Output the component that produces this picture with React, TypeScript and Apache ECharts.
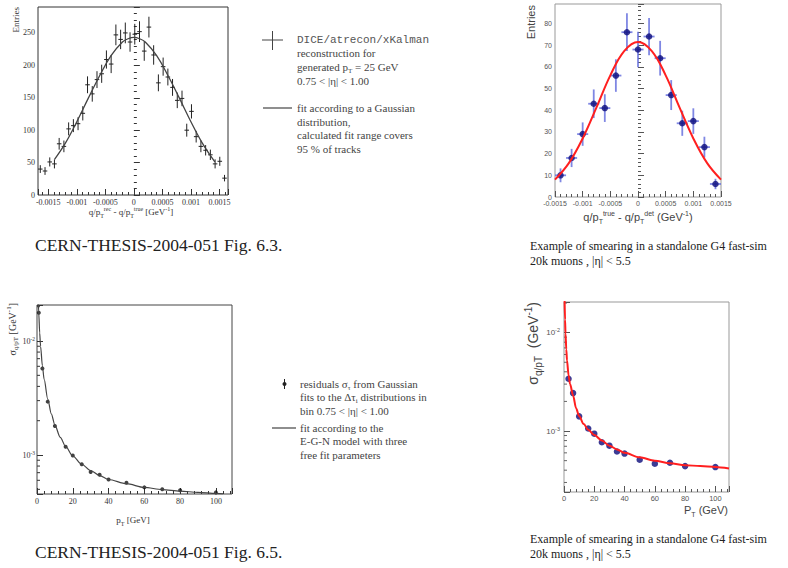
import React, { useEffect, useRef } from 'react';
import * as echarts from 'echarts';

const SERIF = '"Liberation Serif", "Times New Roman", serif';
const SANS = '"Liberation Sans", Arial, Helvetica, sans-serif';
const MONO = '"Liberation Mono", "DejaVu Sans Mono", monospace';

// ---- Panel 1: DICE/atrecon/xKalman residuals (Fig. 6.3) ----
const diceX = [-0.00164, -0.001557, -0.001474, -0.001392, -0.001309, -0.001226, -0.001143, -0.00106, -0.000978, -0.000895,
  -0.000812, -0.000729, -0.000646, -0.000564, -0.000481, -0.000398, -0.000315, -0.000232, -0.00015, -0.000067,
  0.000016, 0.000099, 0.000182, 0.000264, 0.000347, 0.00043, 0.000513, 0.000596, 0.000678, 0.000761,
  0.000844, 0.000927, 0.00101, 0.001092, 0.001175, 0.001258, 0.001341, 0.001424, 0.001506, 0.001589];
const diceCounts = [40, 37, 51, 48, 79, 75, 102, 107, 110, 126, 170, 156, 178, 187, 209, 202, 247, 240, 250, 236,
  248, 252, 222, 259, 216, 173, 198, 182, 166, 146, 149, 100, 129, 90, 75, 69, 62, 48, 52, 26];
const diceErr = [6, 6, 7, 7, 9, 9, 10, 10, 10, 11, 13, 12, 13, 14, 14, 14, 16, 15, 16, 15,
  16, 16, 15, 16, 15, 13, 14, 13, 13, 12, 12, 10, 11, 9, 9, 8, 8, 7, 7, 5];
const diceHalfBin = 0.00004;
const gaussFitX = [-0.00139, -0.0012, -0.001, -0.0008, -0.0006, -0.0004, -0.0002, -0.0001, 0, 0.0001, 0.0002, 0.0004, 0.0006, 0.0008, 0.001, 0.0012, 0.00142];
const gaussFitY = [55, 80, 113, 149, 184, 215, 236, 241, 243, 241, 236, 215, 184, 149, 113, 80, 51];

// ---- Panel 2: G4 fast-sim residuals ----
const fastX = [-0.0014, -0.0012, -0.001, -0.0008, -0.0006, -0.0004, -0.0002, 0, 0.0002, 0.0004, 0.0006, 0.0008, 0.001, 0.0012, 0.0014];
const fastCounts = [10, 18, 29, 43, 41, 56, 76, 68, 74, 64, 47, 34, 35, 23, 6];
const fastErr = [3.2, 4.2, 5.4, 6.6, 6.4, 7.5, 8.7, 8.2, 8.6, 8, 6.9, 5.8, 5.9, 4.8, 2.4];
const fastHalfBin = 0.0001;
const fastFitX = [-0.0015, -0.00125, -0.001, -0.00075, -0.0005, -0.00025, 0, 0.00025, 0.0005, 0.00075, 0.001, 0.00125, 0.0015];
const fastFitY = [8, 15.6, 27, 41.3, 56.1, 67.3, 71.5, 67.3, 56.1, 41.3, 27, 15.6, 8];

// ---- Panel 3: resolution vs pT (Fig. 6.5) ----
const resPt = [1, 3, 6, 10, 16, 20, 25, 30, 35, 40, 50, 60, 70, 80, 100];
const resSigma = [0.0177, 0.00575, 0.00294, 0.0018, 0.00118, 0.00099, 0.00083, 0.00071, 0.00067, 0.00061, 0.00057, 0.00052, 0.0005, 0.00049, 0.00047];
const egnPt = [0.6, 1, 1.5, 2, 3, 4, 6, 8, 10, 13, 16, 20, 25, 30, 35, 40, 50, 60, 70, 80, 90, 100, 104];
const egnSigma = [0.025, 0.0175, 0.0118, 0.009, 0.0061, 0.0046, 0.0031, 0.0023, 0.00183, 0.00143, 0.00119, 0.00098, 0.00083,
  0.00073, 0.00066, 0.00061, 0.00056, 0.00052, 0.000497, 0.000482, 0.00047, 0.00046, 0.000457];

// ---- Panel 4: G4 fast-sim resolution vs pT ----
const fsPt = [3, 6, 10, 16, 20, 25, 30, 35, 40, 50, 60, 70, 80, 100];
const fsSigma = [0.0034, 0.00243, 0.00141, 0.00106, 0.00094, 0.00077, 0.00071, 0.00062, 0.00059, 0.00051, 0.000466, 0.000476, 0.00044, 0.00043];
const fsFitPt = [0.4, 0.7, 1, 1.5, 2, 3, 4, 6, 8, 10, 13, 16, 20, 25, 30, 35, 40, 50, 60, 70, 80, 90, 100, 109];
const fsFitSigma = [0.021, 0.0135, 0.0098, 0.0068, 0.0052, 0.0037, 0.003, 0.0023, 0.0017, 0.00142, 0.00118, 0.00103, 0.00091,
  0.0008, 0.00071, 0.00065, 0.0006, 0.00054, 0.0005, 0.00047, 0.00045, 0.00044, 0.00043, 0.000415];

// tick labels
const histTickStep = 0.0005;
const logDecades = [-4, -3, -2];

const stepLabel = (step: number) => (v: number) => {
  const r = v / step;
  if (Math.abs(r - Math.round(r)) > 1e-6) return '';
  return String(+v.toFixed(6));
};
const logLabel = (v: number) => {
  const e = Math.log10(v);
  if (Math.abs(e - Math.round(e)) > 0.01) return '';
  return '{b|10}{e|' + Math.round(e) + '}';
};

const errorBars = (color: string, width: number) => (params: any, api: any) => {
  const x = api.value(0), y = api.value(1), e = api.value(2), h = api.value(3);
  const a = api.coord([x, y + e]);
  const b = api.coord([x, y - e]);
  const l = api.coord([x - h, y]);
  const r = api.coord([x + h, y]);
  return {
    type: 'group',
    children: [
      { type: 'line', shape: { x1: a[0], y1: a[1], x2: b[0], y2: b[1] }, style: { stroke: color, lineWidth: width } },
      { type: 'line', shape: { x1: l[0], y1: l[1], x2: r[0], y2: r[1] }, style: { stroke: color, lineWidth: width } },
    ],
  };
};
const logMinorTicks = (len: number, color: string) => (params: any, api: any) => {
  const p = api.coord([api.value(0), api.value(1)]);
  return { type: 'line', shape: { x1: p[0], y1: p[1], x2: p[0] + len, y2: p[1] }, style: { stroke: color, lineWidth: 1 } };
};
const minorLogValues = (min: number, max: number) => {
  const out: number[][] = [];
  logDecades.forEach((d) => {
    for (let m = 2; m <= 9; m++) {
      const v = m * Math.pow(10, d);
      if (v > min && v < max) out.push([0, v]);
    }
  });
  return out;
};

const richSet = (fs: number, fam: string, col: string) => ({
  n: { fontSize: fs, fontFamily: fam, fill: col, color: col, lineHeight: Math.round(fs * 1.4), verticalAlign: 'middle' },
  sub: { fontSize: Math.round(fs * 0.68), fontFamily: fam, fill: col, color: col, lineHeight: Math.round(fs * 0.68), verticalAlign: 'bottom' },
  sup: { fontSize: Math.round(fs * 0.68), fontFamily: fam, fill: col, color: col, lineHeight: Math.round(fs * 0.68), verticalAlign: 'top' },
});

const graphics: any[] = [];
const txt = (x: number, y: number, text: string, fs: number, fam: string, col: string, extra: any = {}) => {
  graphics.push({
    type: 'text', x, y, rotation: extra.rotation || 0, silent: true,
    style: {
      text, fontSize: fs, fontFamily: fam, fill: col,
      align: extra.align || 'left', verticalAlign: 'middle',
      rich: richSet(fs, fam, col),
    },
  });
};
const seg = (x1: number, y1: number, x2: number, y2: number, col: string, w = 1) => {
  graphics.push({ type: 'line', silent: true, shape: { x1, y1, x2, y2 }, style: { stroke: col, lineWidth: w } });
};

// Panel 1 texts
txt(131, 212, '{n|q/p}{sub|T}{sup|rec}{n| - q/p}{sub|T}{sup|true}{n| [GeV}{sup|-1}{n|]}', 9, SERIF, '#333', { align: 'center' });
txt(16, 7, 'Entries', 9, SERIF, '#333', { rotation: Math.PI / 2, align: 'right' });
// Panel 1 legend
seg(262, 40, 283, 40, '#444', 1);
seg(272.5, 31, 272.5, 50, '#444', 1);
txt(297, 40, 'DICE/atrecon/xKalman', 11, MONO, '#555');
txt(297, 53, 'reconstruction for', 11, SERIF, '#444');
txt(297, 67, '{n|generated p}{sub|T}{n| = 25 GeV}', 11, SERIF, '#444');
txt(297, 81, '0.75 < |η| < 1.00', 11, SERIF, '#444');
seg(263, 108, 292, 108, '#444', 1.2);
txt(297, 108, 'fit according to a Gaussian', 11, SERIF, '#444');
txt(297, 122, 'distribution,', 11, SERIF, '#444');
txt(297, 135, 'calculated fit range covers', 11, SERIF, '#444');
txt(297, 149, '95 % of tracks', 11, SERIF, '#444');
txt(35, 245, 'CERN-THESIS-2004-051 Fig. 6.3.', 17.5, SERIF, '#222');

// Panel 2 texts
txt(638, 217, '{n|q/p}{sub|T}{sup|true}{n| - q/p}{sub|T}{sup|det}{n| (GeV}{sup|-1}{n|)}', 11, SANS, '#444', { align: 'center' });
txt(531, 5, 'Entries', 11, SANS, '#444', { rotation: Math.PI / 2, align: 'right' });
txt(530, 246, 'Example of smearing in a standalone G4 fast-sim', 12, SERIF, '#222');
txt(530, 261, '20k muons , |η| < 5.5', 12, SERIF, '#222');

// Panel 3 texts
txt(133, 520, '{n|p}{sub|T}{n| [GeV]}', 9, SERIF, '#333', { align: 'center' });
txt(12, 303, '{n|σ}{sub|q/p}{sub|T}{n| [GeV}{sup|-1}{n|]}', 10, SERIF, '#333', { rotation: Math.PI / 2, align: 'right' });
graphics.push({ type: 'circle', silent: true, shape: { cx: 284.5, cy: 384, r: 2 }, style: { fill: '#222' } });
seg(284.5, 379, 284.5, 389, '#222', 1);
txt(300, 384, '{n|residuals σ}{sub|τ}{n| from Gaussian}', 11, SERIF, '#444');
txt(300, 397, '{n|fits to the Δτ}{sub|i}{n| distributions in}', 11, SERIF, '#444');
txt(300, 411, 'bin 0.75 < |η| < 1.00', 11, SERIF, '#444');
seg(272, 428, 296, 428, '#444', 1.2);
txt(300, 428, 'fit according to the', 11, SERIF, '#444');
txt(300, 441, 'E-G-N model with three', 11, SERIF, '#444');
txt(300, 455, 'free fit parameters', 11, SERIF, '#444');
txt(35, 552, 'CERN-THESIS-2004-051 Fig. 6.5.', 17.5, SERIF, '#222');

// Panel 4 texts
txt(728, 510, '{n|P}{sub|T}{n| (GeV)}', 11, SANS, '#444', { align: 'right' });
txt(533, 302, '{n|σ}{sub|q/p}{sub|T}{n|  (GeV}{sup|-1}{n|)}', 14, SANS, '#444', { rotation: Math.PI / 2, align: 'right' });
txt(530, 539, 'Example of smearing in a standalone G4 fast-sim', 12, SERIF, '#222');
txt(530, 554, '20k muons , |η| < 5.5', 12, SERIF, '#222');

const rootAxis = (gridIndex: number, col: string, fam: string, fs: number, margin: number) => ({
  gridIndex,
  axisLine: { show: false },
  axisTick: { inside: true, length: 6, lineStyle: { color: col } },
  minorTick: { show: true, splitNumber: 5, length: 3, lineStyle: { color: col } },
  splitLine: { show: false },
  minorSplitLine: { show: false },
  axisLabel: { fontFamily: fam, fontSize: fs, color: col, margin },
});

const logRich = (fam: string, col: string) => ({
  b: { fontSize: 8, fontFamily: fam, color: col, lineHeight: 11, verticalAlign: 'middle' },
  e: { fontSize: 5.5, fontFamily: fam, color: col, lineHeight: 6, verticalAlign: 'top' },
});

const option: any = {
  animation: false,
  backgroundColor: '#ffffff',
  grid: [
    { left: 38, top: 7, width: 190, height: 188, show: true, borderColor: '#333', borderWidth: 1, backgroundColor: 'transparent' },
    { left: 555, top: 4, width: 166, height: 193, show: true, borderColor: '#999', borderWidth: 1, backgroundColor: 'transparent' },
    { left: 37, top: 305, width: 195, height: 189, show: true, borderColor: '#444', borderWidth: 1, backgroundColor: 'transparent' },
    { left: 564, top: 302, width: 165, height: 190, show: true, borderColor: '#999', borderWidth: 1, backgroundColor: 'transparent' },
  ],
  xAxis: [
    (() => { const a: any = rootAxis(0, '#333', SERIF, 8, 3); return { ...a, type: 'value', min: -0.00168, max: 0.00165, splitNumber: 6, minInterval: histTickStep, maxInterval: histTickStep, axisLabel: { ...a.axisLabel, formatter: stepLabel(histTickStep) } }; })(),
    (() => { const a: any = rootAxis(1, '#555', SANS, 7, 3); return { ...a, type: 'value', min: -0.0015, max: 0.0015, interval: histTickStep, axisLabel: { ...a.axisLabel, formatter: stepLabel(histTickStep) } }; })(),
    (() => { const a: any = rootAxis(2, '#333', SERIF, 8, 3); return { ...a, type: 'value', min: 0, max: 109, interval: 20, axisLabel: { ...a.axisLabel, formatter: stepLabel(20) } }; })(),
    (() => { const a: any = rootAxis(3, '#555', SANS, 7.5, 2); return { ...a, type: 'value', min: 0, max: 109, interval: 20, axisLabel: { ...a.axisLabel, formatter: stepLabel(20) } }; })(),
  ],
  yAxis: [
    (() => { const a: any = rootAxis(0, '#333', SERIF, 8, 3); return { ...a, type: 'value', min: 0, max: 290, interval: 50, axisLabel: { ...a.axisLabel, formatter: stepLabel(50) } }; })(),
    (() => { const a: any = rootAxis(1, '#555', SANS, 7, 3); return { ...a, type: 'value', min: 0, max: 89, interval: 10, axisLabel: { ...a.axisLabel, showMinLabel: true, formatter: stepLabel(10) } }; })(),
    (() => { const a: any = rootAxis(2, '#333', SERIF, 8, 2); return { ...a, type: 'log', logBase: 10, min: 0.000455, max: 0.0207, minorTick: { show: false }, axisLabel: { ...a.axisLabel, formatter: logLabel, rich: logRich(SERIF, '#333') } }; })(),
    (() => { const a: any = rootAxis(3, '#555', SANS, 7.5, 4); return { ...a, type: 'log', logBase: 10, min: 0.00024, max: 0.0205, minorTick: { show: false }, axisLabel: { ...a.axisLabel, formatter: logLabel, rich: logRich(SANS, '#555') } }; })(),
  ],
  series: [
    {
      type: 'custom', xAxisIndex: 0, yAxisIndex: 0, renderItem: errorBars('#222', 1), encode: { x: 0, y: 1 },
      data: diceX.map((x, i) => [x, diceCounts[i], diceErr[i], diceHalfBin]),
    },
    {
      type: 'line', xAxisIndex: 0, yAxisIndex: 0, smooth: 0.4, showSymbol: false, symbol: 'none',
      lineStyle: { color: '#444', width: 1.3 }, data: gaussFitX.map((x, i) => [x, gaussFitY[i]]),
    },
    {
      type: 'custom', xAxisIndex: 1, yAxisIndex: 1, renderItem: errorBars('rgba(95,105,220,0.8)', 1.8), encode: { x: 0, y: 1 },
      data: fastX.map((x, i) => [x, fastCounts[i], fastErr[i], fastHalfBin]),
    },
    {
      type: 'scatter', xAxisIndex: 1, yAxisIndex: 1, symbol: 'circle', symbolSize: 6.5,
      itemStyle: { color: '#0b0b7a' }, data: fastX.map((x, i) => [x, fastCounts[i]]),
    },
    {
      type: 'line', xAxisIndex: 1, yAxisIndex: 1, smooth: 0.4, showSymbol: false, symbol: 'none',
      lineStyle: { color: '#ff1f1f', width: 2 }, data: fastFitX.map((x, i) => [x, fastFitY[i]]),
    },
    {
      type: 'custom', xAxisIndex: 2, yAxisIndex: 2, renderItem: logMinorTicks(3, '#333'), encode: { x: 0, y: 1 },
      data: minorLogValues(0.000455, 0.0207),
    },
    {
      type: 'line', xAxisIndex: 2, yAxisIndex: 2, smooth: 0.3, smoothMonotone: 'x', showSymbol: false, symbol: 'none',
      lineStyle: { color: '#444', width: 1.2 }, data: egnPt.map((x, i) => [x, egnSigma[i]]),
    },
    {
      type: 'scatter', xAxisIndex: 2, yAxisIndex: 2, symbol: 'circle', symbolSize: 4,
      itemStyle: { color: '#111' }, data: resPt.map((x, i) => [x, resSigma[i]]),
    },
    {
      type: 'custom', xAxisIndex: 3, yAxisIndex: 3, renderItem: logMinorTicks(3, '#666'), encode: { x: 0, y: 1 },
      data: minorLogValues(0.00024, 0.0205),
    },
    {
      type: 'scatter', xAxisIndex: 3, yAxisIndex: 3, symbol: 'circle', symbolSize: 6.5,
      itemStyle: { color: '#0b0b7a' }, data: fsPt.map((x, i) => [x, fsSigma[i]]),
    },
    {
      type: 'line', xAxisIndex: 3, yAxisIndex: 3, smooth: 0.3, smoothMonotone: 'x', showSymbol: false, symbol: 'none',
      lineStyle: { color: '#ff1f1f', width: 2 }, data: fsFitPt.map((x, i) => [x, fsFitSigma[i]]),
    },
  ],
  graphic: graphics,
};

export default function App() {
  const ref = useRef<HTMLDivElement>(null);
  useEffect(() => {
    if (!ref.current) return;
    const chart = echarts.init(ref.current, null, { renderer: 'svg' });
    chart.setOption(option);
    return () => chart.dispose();
  }, []);
  return (
    <div
      ref={ref}
      style={{ position: 'absolute', left: 0, top: 0, width: 788, height: 568, background: '#ffffff' }}
    />
  );
}
